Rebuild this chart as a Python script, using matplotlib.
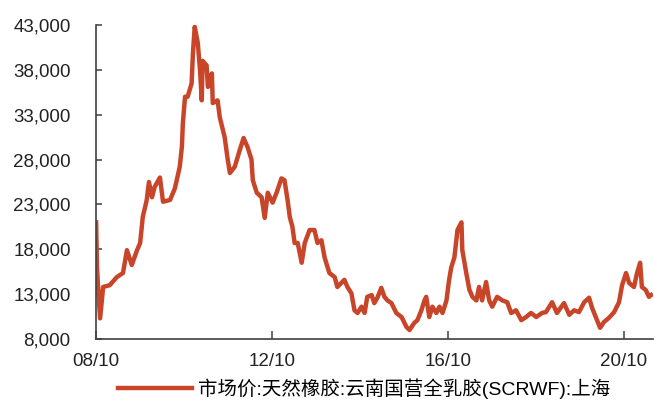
import matplotlib
matplotlib.use("Agg")
import matplotlib.pyplot as plt
from matplotlib.ticker import FuncFormatter

plt.rcParams['font.family'] = ['Liberation Sans', 'Noto Sans CJK SC', 'DejaVu Sans']

# 时间（小数年）与价格（元/吨）
years = [
    2008.76, 2008.78, 2008.80, 2008.85, 2008.92, 2009.07, 2009.23, 2009.37, 2009.46, 2009.57,
    2009.69, 2009.76, 2009.82, 2009.91, 2009.96, 2010.03, 2010.09, 2010.21, 2010.28, 2010.44,
    2010.55, 2010.62, 2010.66, 2010.71, 2010.73, 2010.78, 2010.84, 2010.93, 2010.96, 2011.00,
    2011.07, 2011.12, 2011.16, 2011.18, 2011.27, 2011.30, 2011.39, 2011.41, 2011.52, 2011.57,
    2011.68, 2011.75, 2011.80, 2011.91, 2012.02, 2012.11, 2012.20, 2012.29, 2012.32, 2012.41,
    2012.52, 2012.59, 2012.66, 2012.77, 2012.86, 2012.97, 2013.04, 2013.11, 2013.16, 2013.22,
    2013.27, 2013.34, 2013.43, 2013.50, 2013.61, 2013.72, 2013.79, 2013.88, 2013.95, 2014.06,
    2014.18, 2014.24, 2014.40, 2014.47, 2014.56, 2014.63, 2014.70, 2014.79, 2014.86, 2014.92,
    2015.02, 2015.08, 2015.15, 2015.24, 2015.31, 2015.38, 2015.47, 2015.58, 2015.70, 2015.81,
    2015.88, 2015.99, 2016.06, 2016.15, 2016.22, 2016.26, 2016.33, 2016.40, 2016.49, 2016.56,
    2016.63, 2016.72, 2016.78, 2016.83, 2016.90, 2016.97, 2017.06, 2017.08, 2017.17, 2017.24,
    2017.31, 2017.40, 2017.46, 2017.53, 2017.62, 2017.69, 2017.76, 2017.87, 2017.99, 2018.10,
    2018.19, 2018.30, 2018.42, 2018.53, 2018.64, 2018.76, 2018.89, 2018.98, 2019.12, 2019.23,
    2019.39, 2019.51, 2019.62, 2019.73, 2019.85, 2019.96, 2020.03, 2020.14, 2020.21, 2020.30,
    2020.41, 2020.53, 2020.64, 2020.71, 2020.80, 2020.87, 2020.98, 2021.05, 2021.12, 2021.16,
    2021.25, 2021.32, 2021.37,
]
price = [
    21000, 16000, 14200, 10300, 13800, 14000, 14900, 15350, 17900, 16250,
    17900, 18700, 21600, 23500, 25500, 23800, 24950, 26000, 23300, 23500,
    24800, 26300, 27200, 29500, 32000, 35000, 35000, 36500, 39900, 42800,
    41000, 38000, 34600, 39000, 38500, 36100, 37600, 34300, 34600, 32700,
    30500, 28000, 26500, 27200, 29000, 30400, 29400, 28000, 25700, 24300,
    23800, 21500, 24300, 23200, 24300, 25900, 25700, 23500, 21600, 20500,
    18700, 18700, 16500, 18700, 20150, 20150, 18700, 19000, 17100, 15350,
    14900, 13800, 14600, 13800, 13100, 11200, 10900, 11600, 10900, 12700,
    12900, 12000, 12600, 13700, 12700, 12300, 12000, 10900, 10450, 9350,
    9000, 9800, 10100, 11200, 12300, 12700, 10450, 11600, 10900, 11600,
    10900, 12300, 14600, 16000, 17100, 20150, 21000, 17900, 15350, 13500,
    12700, 12300, 13800, 12300, 14350, 12300, 11600, 12700, 12300, 12100,
    10900, 11200, 10100, 10450, 10900, 10450, 10900, 11000, 12100, 10900,
    12000, 10700, 11200, 11000, 12100, 12600, 11450, 10100, 9250, 9900,
    10350, 11000, 12100, 14000, 15350, 14250, 13800, 15350, 16500, 13800,
    13450, 12700, 12900,
]
tick_years = [2008.75, 2012.75, 2016.75, 2020.75]
tick_labels = ['08/10', '12/10', '16/10', '20/10']
y_ticks = [8000, 13000, 18000, 23000, 28000, 33000, 38000, 43000]
series_name = '市场价:天然橡胶:云南国营全乳胶(SCRWF):上海'

fig = plt.figure(figsize=(6.54, 4.01), dpi=100)
ax = fig.add_axes([0.1463, 0.1546, 0.852, 0.7831])

ax.plot(years, price, color='#C8452A', lw=3.2, label=series_name)

ax.set_xlim(2008.75, 2021.41)
ax.set_ylim(8000, 43000)
ax.set_xticks(tick_years)
ax.set_xticklabels(tick_labels)
ax.set_yticks(y_ticks)
ax.yaxis.set_major_formatter(FuncFormatter(lambda v, p: f'{int(v):,}'))

for s in ['top', 'right']:
    ax.spines[s].set_visible(False)
for s in ['left', 'bottom']:
    ax.spines[s].set_color('#404040')
    ax.spines[s].set_linewidth(1.2)

ax.tick_params(axis='y', direction='in', length=4, width=1.1, color='#404040',
               labelsize=13.5, labelcolor='#222222', pad=18)
ax.tick_params(axis='x', direction='in', length=6, width=1.1, color='#404040',
               labelsize=13.5, labelcolor='#222222', pad=10)

fig.legend(loc='center', bbox_to_anchor=(0.557, 0.03), frameon=False,
           fontsize=14, handlelength=3.8, handletextpad=0.3, borderaxespad=0)

fig.savefig('out.png', dpi=100)
plt.close(fig)
